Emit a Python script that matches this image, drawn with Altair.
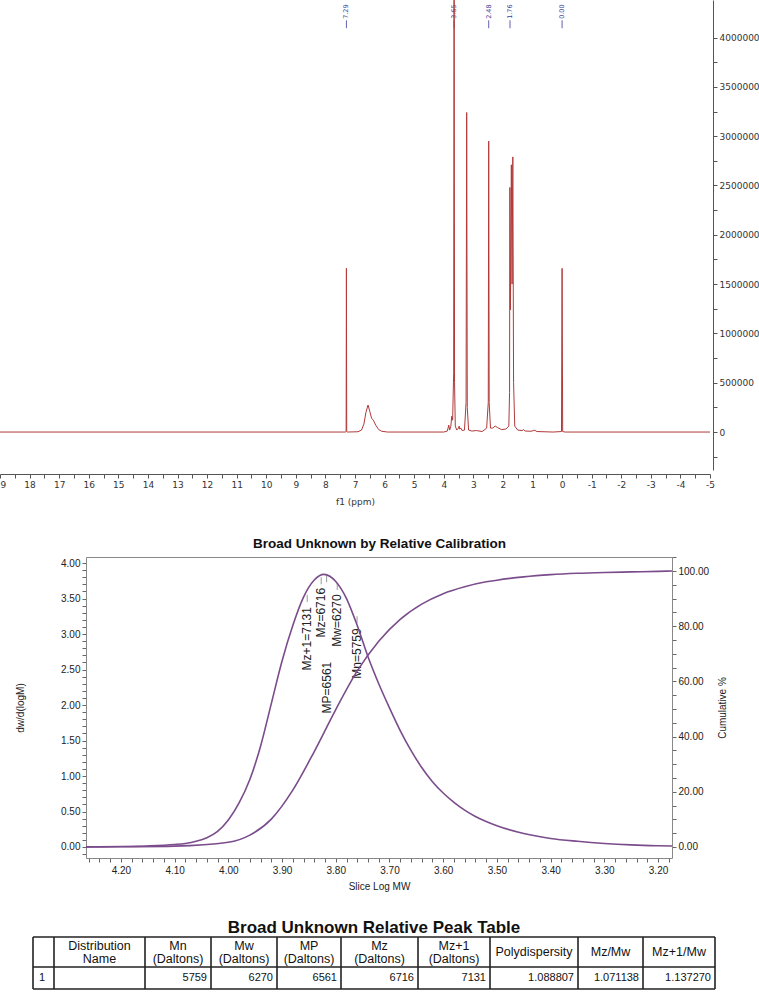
import altair as alt
import pandas as pd
import math

# ---------------- data ----------------
# 1H NMR trace (ppm, intensity)
nmr_ppm = [19.0, 7.33, 7.30, 7.29, 7.28, 7.25, 6.90, 6.78, 6.70, 6.63, 6.56, 6.50, 6.44,
           6.38, 6.30, 6.20, 6.10, 5.90, 4.00, 3.88, 3.83, 3.80, 3.76, 3.73, 3.70, 3.665,
           3.65, 3.635, 3.61, 3.56, 3.50, 3.48, 3.46, 3.42, 3.38, 3.30, 3.245, 3.225,
           3.205, 3.16, 3.05, 2.90, 2.70, 2.55, 2.495, 2.48, 2.465, 2.42, 2.35, 2.26,
           2.18, 2.05, 1.90, 1.80, 1.775, 1.765, 1.745, 1.715, 1.69, 1.665, 1.64, 1.60,
           1.50, 1.35, 1.30, 1.25, 1.05, 0.92, 0.85, 0.30, 0.02, 0.00, -0.02, -0.10, -5.0]
nmr_int = [0, 0, 5000, 1660000, 5000, 0, 3000, 20000, 80000, 200000, 274000, 210000, 140000,
           120000, 70000, 25000, 8000, 0, 0, 10000, 70000, 20000, 60000, 160000, 120000, 600000,
           5200000, 500000, 60000, 20000, 40000, 60000, 30000, 40000, 15000, 20000, 300000, 3240000,
           250000, 20000, 10000, 15000, 5000, 40000, 300000, 2950000, 300000, 40000, 40000, 60000,
           45000, 25000, 30000, 60000, 400000, 2480000, 1240000, 2710000, 1500000, 2790000, 500000, 60000,
           20000, 15000, 25000, 10000, 8000, 18000, 5000, 0, 5000, 1660000, 5000, 0, 0]
nmr_peaks = [7.29, 3.65, 2.48, 1.76, 0.00]

# GPC differential distribution (Slice Log MW, dw/d(logM))
gpc_logm = [4.265, 4.20, 4.15, 4.10, 4.08, 4.06, 4.04, 4.02, 4.00, 3.98, 3.96, 3.94, 3.92,
            3.90, 3.88, 3.86, 3.84, 3.822, 3.80, 3.78, 3.76, 3.74, 3.72, 3.70, 3.68, 3.66,
            3.64, 3.62, 3.60, 3.58, 3.56, 3.54, 3.52, 3.50, 3.45, 3.40, 3.35, 3.30, 3.25,
            3.20, 3.174]
gpc_dw = [0.002, 0.006, 0.015, 0.035, 0.05, 0.08, 0.13, 0.22, 0.38, 0.62, 0.95, 1.42, 2.02,
          2.62, 3.12, 3.52, 3.76, 3.84, 3.74, 3.50, 3.12, 2.68, 2.30, 1.96, 1.64, 1.36,
          1.12, 0.92, 0.76, 0.63, 0.52, 0.43, 0.36, 0.30, 0.19, 0.12, 0.08, 0.05, 0.03,
          0.018, 0.014]

# GPC cumulative curve (Slice Log MW, Cumulative %)
cum_logm = [4.265, 4.20, 4.10, 4.00, 3.96, 3.92, 3.88, 3.84, 3.80, 3.76, 3.72, 3.68, 3.64,
            3.60, 3.56, 3.52, 3.50, 3.45, 3.40, 3.35, 3.30, 3.25, 3.20, 3.174]
cum_pct = [0.0, 0.1, 0.3, 1.7, 4.3, 10.1, 20.6, 34.6, 49.8, 63.8, 74.6, 82.5, 88.0,
           91.8, 94.3, 96.1, 96.7, 97.9, 98.7, 99.2, 99.5, 99.7, 99.9, 100.0]

# peak table values
mol_names = ["Mn", "Mw", "MP", "Mz", "Mz+1"]
mol_values = [5759, 6270, 6561, 6716, 7131]
polydispersity = "1.088807"
mz_mw = "1.071138"
mz1_mw = "1.137270"
row_id = "1"

# ---------------- layout / style ----------------
W, H = 759, 992
NMR_RED = "#b03a3a"
NMR_BLUE = "#3a3a94"
GPC_PURPLE = "#7b4c8c"
NMR_FONT = "DejaVu Sans"
GPC_FONT = "Liberation Sans"


def sc(domain, rng):
    return alt.Scale(domain=domain, range=rng, nice=False, zero=False)


def sx_nmr():
    return sc([-5, 19], [710, 0])


def sy_nmr():
    return sc([-385000, 4381000], [470, 0])


def sx_gpc():
    return sc([3.174, 4.265], [672, 86])


def sy_gpc():
    return sc([-0.155, 4.085], [858, 557])


def sy_cum():
    return sc([-4.0, 105.1], [858, 557])


def sx_tab():
    return sc([0, 682], [33, 715])


def sy_tab():
    return sc([0, 52], [937, 989])


# ---------------- NMR panel ----------------
nmr_df = pd.DataFrame({"ppm": nmr_ppm, "intensity": nmr_int})
nmr_xticks = [round(19 - 0.5 * i, 1) for i in range(49)]
nmr_yticks = [-250000 + 250000 * i for i in range(18)]

nmr_line = alt.Chart(nmr_df).mark_line(color=NMR_RED, strokeWidth=1).encode(
    x=alt.X("ppm:Q", scale=sx_nmr(), axis=alt.Axis(
        orient="bottom", offset=474 - H, values=nmr_xticks,
        labelExpr="datum.value % 1 == 0 ? '' + datum.value : ''",
        labelFont=NMR_FONT, labelFontSize=9, labelColor="#333", labelPadding=2,
        labelFlush=False, labelOverlap=False, tickSize=4, tickColor="#555",
        domainColor="#555", title="f1 (ppm)", titleFont=NMR_FONT, titleFontSize=9,
        titleFontWeight="normal", titleColor="#333", titleY=27, titleBaseline="middle")),
    y=alt.Y("intensity:Q", scale=sy_nmr(), axis=alt.Axis(
        orient="right", offset=713 - W, values=nmr_yticks,
        labelExpr="datum.value % 500000 == 0 ? '' + datum.value : ''",
        labelFont=NMR_FONT, labelFontSize=9, labelColor="#333", labelPadding=2,
        labelFlush=False, labelOverlap=False, tickSize=4, tickColor="#555",
        domainColor="#555", title=None)),
)

peak_df = pd.DataFrame({
    "ppm": nmr_peaks,
    "label": [f"{p:.2f}" for p in nmr_peaks],
    "text_y": [4190000] * len(nmr_peaks),
    "tick_top": [4175000] * len(nmr_peaks),
    "tick_bot": [4095000] * len(nmr_peaks),
})
nmr_peak_ticks = alt.Chart(peak_df).mark_rule(color=NMR_BLUE, strokeWidth=0.8).encode(
    x=alt.X("ppm:Q", scale=sx_nmr(), axis=None),
    y=alt.Y("tick_top:Q", scale=sy_nmr(), axis=None),
    y2="tick_bot:Q",
)
nmr_peak_text = alt.Chart(peak_df).mark_text(
    color=NMR_BLUE, font=NMR_FONT, fontSize=6.5, angle=270, align="left", baseline="middle"
).encode(
    x=alt.X("ppm:Q", scale=sx_nmr(), axis=None),
    y=alt.Y("text_y:Q", scale=sy_nmr(), axis=None),
    text="label:N",
)

# ---------------- GPC panel ----------------
gpc_df = pd.DataFrame({"logm": gpc_logm, "dw": gpc_dw})
cum_df = pd.DataFrame({"logm": cum_logm, "pct": cum_pct})
gpc_xticks = [round(4.26 - 0.02 * i, 2) for i in range(55)]
gpc_yticks = [round(-0.1 + 0.1 * i, 1) for i in range(42)]
cum_yticks = [5 * i for i in range(22)]

axis_common = dict(labelFont=GPC_FONT, labelFontSize=10, labelColor="#222",
                   labelFlush=False, labelOverlap=False, tickSize=4, tickColor="#666",
                   domainColor="#888", titleFont=GPC_FONT, titleFontSize=10,
                   titleFontWeight="normal", titleColor="#222")

gpc_dist = alt.Chart(gpc_df).mark_line(color=GPC_PURPLE, strokeWidth=1.6, interpolate="monotone").encode(
    x=alt.X("logm:Q", scale=sx_gpc(), axis=alt.Axis(
        orient="bottom", offset=858 - H, values=gpc_xticks,
        labelExpr="abs(round(datum.value*100) % 10) == 0 ? format(datum.value, '.2f') : ''",
        labelPadding=3, title="Slice Log MW", titleY=28, titleBaseline="middle", **axis_common)),
    y=alt.Y("dw:Q", scale=sy_gpc(), axis=alt.Axis(
        orient="left", offset=-86, values=gpc_yticks,
        labelExpr="abs(round(datum.value*10) % 5) == 0 ? format(datum.value, '.2f') : ''",
        labelPadding=2, title="dw/d(logM)", titleX=-66, titleAngle=270,
        titleBaseline="middle", titleAlign="center", **axis_common)),
)

gpc_cum = alt.Chart(cum_df).mark_line(color=GPC_PURPLE, strokeWidth=1.6, interpolate="monotone").encode(
    x=alt.X("logm:Q", scale=sx_gpc(), axis=alt.Axis(
        orient="top", offset=-557, domain=True, ticks=False, labels=False,
        title="Broad Unknown by Relative Calibration", titleY=-14, titleBaseline="middle",
        domainColor="#888", titleFont=GPC_FONT, titleFontSize=13.5, titleFontWeight="bold",
        titleColor="#111")),
    y=alt.Y("pct:Q", scale=sy_cum(), axis=alt.Axis(
        orient="right", offset=672 - W, values=cum_yticks,
        labelExpr="datum.value % 20 == 0 ? format(datum.value, '.2f') : ''",
        labelPadding=2, title="Cumulative %", titleX=50, titleAngle=270,
        titleBaseline="middle", titleAlign="center", **axis_common)),
)

# annotation layout (dw/d(logM) units): tick top, tick bottom, text top
ann_layout = {"Mn": (3.25, 3.15, 3.08), "Mw": (3.72, 3.62, 3.56), "MP": (3.83, 3.73, 2.61),
              "Mz": (3.80, 3.70, 3.65), "Mz+1": (3.55, 3.45, 3.38)}
ann_df = pd.DataFrame({
    "logm": [math.log10(v) for v in mol_values],
    "label": [f"{n}={v}" for n, v in zip(mol_names, mol_values)],
    "t1": [ann_layout[n][0] for n in mol_names],
    "t2": [ann_layout[n][1] for n in mol_names],
    "ty": [ann_layout[n][2] for n in mol_names],
})
ann_ticks = alt.Chart(ann_df).mark_rule(color="#999", strokeWidth=1).encode(
    x=alt.X("logm:Q", scale=sx_gpc(), axis=None),
    y=alt.Y("t1:Q", scale=sy_gpc(), axis=None),
    y2="t2:Q",
)
ann_text = alt.Chart(ann_df).mark_text(
    font=GPC_FONT, fontSize=12, color="#222", angle=270, align="right", baseline="middle"
).encode(
    x=alt.X("logm:Q", scale=sx_gpc(), axis=None),
    y=alt.Y("ty:Q", scale=sy_gpc(), axis=None),
    text="label:N",
)

# ---------------- peak table ----------------
headers = ["", "Distribution\nName"] + [f"{n}\n(Daltons)" for n in mol_names] + \
          ["Polydispersity", "Mz/Mw", "Mz+1/Mw"]
cells = [row_id, ""] + [str(v) for v in mol_values] + [polydispersity, mz_mw, mz1_mw]
col_widths = [21, 91, 66, 66, 64, 77, 72, 88, 65, 72]
row_edges = [0, 30, 52]
LINE_H = 13
col_edges = [0]
for w_ in col_widths:
    col_edges.append(col_edges[-1] + w_)

vlines = pd.DataFrame({"x": col_edges, "y": [row_edges[0]] * len(col_edges),
                       "y2": [row_edges[-1]] * len(col_edges)})
hlines = pd.DataFrame({"y": row_edges, "x": [0] * len(row_edges),
                       "x2": [col_edges[-1]] * len(row_edges)})
head_mid = (row_edges[0] + row_edges[1]) / 2
head_df = pd.DataFrame({
    "x": [(col_edges[i] + col_edges[i + 1]) / 2 for i in range(len(headers))],
    "y": [head_mid - (h.count("\n")) * LINE_H / 2 for h in headers],
    "t": headers})
num_df = pd.DataFrame({"x": [col_edges[i + 1] - 4 for i in range(2, len(cells))],
                       "y": [(row_edges[1] + row_edges[2]) / 2] * (len(cells) - 2),
                       "t": cells[2:]})
id_df = pd.DataFrame({"x": [col_edges[0] + 6], "y": [(row_edges[1] + row_edges[2]) / 2],
                      "t": [cells[0]]})
title_df = pd.DataFrame({"x": [col_edges[-1] / 2], "y": [-9],
                         "t": ["Broad Unknown Relative Peak Table"]})

tab_v = alt.Chart(vlines).mark_rule(color="#222", strokeWidth=1.6).encode(
    x=alt.X("x:Q", scale=sx_tab(), axis=None),
    y=alt.Y("y:Q", scale=sy_tab(), axis=None), y2="y2:Q")
tab_h = alt.Chart(hlines).mark_rule(color="#222", strokeWidth=1.6).encode(
    x=alt.X("x:Q", scale=sx_tab(), axis=None), x2="x2:Q",
    y=alt.Y("y:Q", scale=sy_tab(), axis=None))
tab_head = alt.Chart(head_df).mark_text(
    font=GPC_FONT, fontSize=12.5, color="#111", align="center", baseline="middle",
    lineBreak="\n", lineHeight=LINE_H).encode(
    x=alt.X("x:Q", scale=sx_tab(), axis=None),
    y=alt.Y("y:Q", scale=sy_tab(), axis=None), text="t:N")
tab_num = alt.Chart(num_df).mark_text(
    font=GPC_FONT, fontSize=11, color="#111", align="right", baseline="middle").encode(
    x=alt.X("x:Q", scale=sx_tab(), axis=None),
    y=alt.Y("y:Q", scale=sy_tab(), axis=None), text="t:N")
tab_id = alt.Chart(id_df).mark_text(
    font=GPC_FONT, fontSize=11, color="#111", align="left", baseline="middle").encode(
    x=alt.X("x:Q", scale=sx_tab(), axis=None),
    y=alt.Y("y:Q", scale=sy_tab(), axis=None), text="t:N")
tab_title = alt.Chart(title_df).mark_text(
    font=GPC_FONT, fontSize=17, fontWeight="bold", color="#111", align="center",
    baseline="middle").encode(
    x=alt.X("x:Q", scale=sx_tab(), axis=None),
    y=alt.Y("y:Q", scale=sy_tab(), axis=None), text="t:N")

chart = alt.layer(
    nmr_peak_ticks, nmr_peak_text, nmr_line,
    ann_ticks, ann_text, gpc_cum, gpc_dist,
    tab_v, tab_h, tab_head, tab_num, tab_id, tab_title,
).resolve_scale(x="independent", y="independent").properties(
    width=W, height=H, padding=0, background="white",
    autosize=alt.AutoSizeParams(type="none"),
).configure_view(stroke=None).configure_axis(grid=False)

chart.save("out.html", embed_options={"renderer": "svg", "actions": False})
